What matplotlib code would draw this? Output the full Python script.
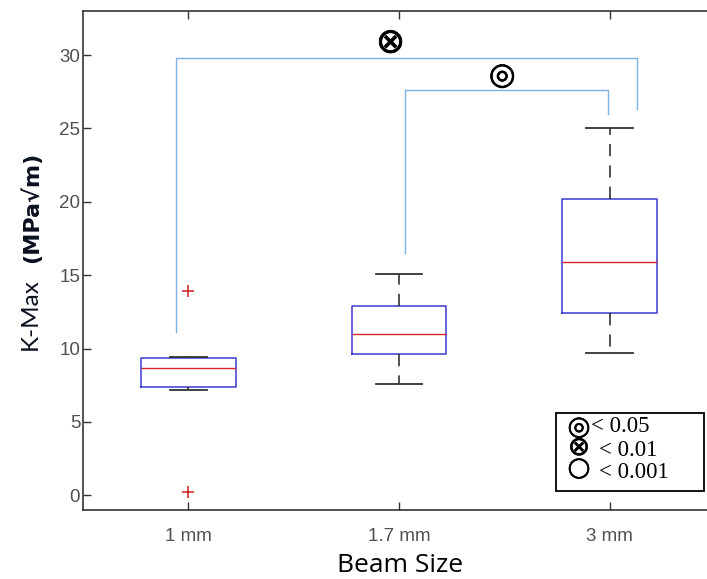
import matplotlib
matplotlib.use('Agg')
import matplotlib.pyplot as plt
import matplotlib.patheffects as pe
from matplotlib.patches import Rectangle

plt.rcParams['font.family'] = 'Liberation Sans'

# box statistics
labels = ['1 mm', '1.7 mm', '3 mm']
q1 = [7.35, 9.6, 12.4]
med = [8.68, 11.0, 15.87]
q3 = [9.35, 12.9, 20.2]
whislo = [7.15, 7.6, 9.7]
whishi = [9.45, 15.1, 25.05]
fliers = [[13.9, 0.2], [], []]

# significance brackets: x left, x right, y top, left foot, right foot
br_xl = [0.94, 2.03]
br_xr = [3.13, 2.99]
br_top = [29.8, 27.6]
br_footl = [11.1, 16.5]
br_footr = [26.3, 26.0]
br_sym = ['\u2297', '\u25ce']
br_symx = [1.96, 2.49]
br_symy = [30.85, 28.6]
br_symsize = [25, 22]

leg_sym = ['\u25ce', '\u2297', '\u25cb']
leg_txt = ['< 0.05', '< 0.01', '< 0.001']

W, H = 707, 579
fig = plt.figure(figsize=(W/100, H/100), dpi=100)
ax = fig.add_axes([83/W, 69/H, (715-83)/W, (510-11)/H])

stats = []
for i in range(3):
    stats.append(dict(med=med[i], q1=q1[i], q3=q3[i], whislo=whislo[i],
                      whishi=whishi[i], fliers=fliers[i], label=labels[i]))

ax.bxp(stats, positions=[1, 2, 3], widths=0.45, capwidths=[0.175, 0.22, 0.22],
       boxprops=dict(color='#3a3ad0', linewidth=1.1),
       medianprops=dict(color='#d62828', linewidth=1.0),
       whiskerprops=dict(color='#222222', linestyle=(0, (8, 6)), linewidth=1.1),
       capprops=dict(color='#333333', linewidth=1.3),
       flierprops=dict(marker='+', markeredgecolor='#cc1f1f', markersize=9, markeredgewidth=1.1))

thick = [pe.withStroke(linewidth=0.5, foreground='black')]
for i in range(len(br_xl)):
    ax.plot([br_xl[i], br_xl[i], br_xr[i], br_xr[i]],
            [br_footl[i], br_top[i], br_top[i], br_footr[i]],
            color='#7db0e6', linewidth=1.0)
    ax.text(br_symx[i], br_symy[i], br_sym[i], fontsize=br_symsize[i], ha='center',
            va='center', family='DejaVu Sans', color='black', path_effects=thick)

ax.set_xlim(0.5, 3.5)
ax.set_ylim(-1, 33)
ax.set_yticks([0, 5, 10, 15, 20, 25, 30])
ax.set_xticks([1, 2, 3])
ax.set_xticklabels(labels)
for s in ax.spines.values():
    s.set_color('#333333')
    s.set_linewidth(1.2)
ax.tick_params(direction='in', length=6, color='#333333', top=True, right=True,
               labelsize=13.5, labelcolor='#505050', width=1.0)
ax.tick_params(axis='x', pad=13)
ax.tick_params(axis='y', pad=2)

# legend box for p-values
fig.patches.append(Rectangle((556/W, 1-491/H), (704-556)/W, (491-413)/H,
                             transform=fig.transFigure, fill=False,
                             edgecolor='black', linewidth=1.3))
fig.text(579/W, 1-448/H, '\n'.join(leg_sym), fontsize=19, ha='center', va='center',
         linespacing=0.72, family='DejaVu Sans',
         path_effects=[pe.withStroke(linewidth=0.4, foreground='black')])
leg_y = [427, 450, 472]
leg_tx = [591, 599, 599]
for i in range(3):
    fig.text(leg_tx[i]/W, 1 - leg_y[i]/H, leg_txt[i], fontsize=16.5, ha='left',
             va='center', family=['Liberation Serif', 'DejaVu Sans'])

# axis labels
fig.text(400/W, 1-566/H, 'Beam Size', fontsize=19, ha='center', va='center',
         family='Open Sans', color='black')
fig.text(30/W, 1-350/H, 'K-Max', fontsize=17.5, rotation=90, ha='center',
         va='bottom', family='Lato', color='#0a1020')
fig.text(31/W, 1-263/H, '(MPa\u221am)', fontsize=16, rotation=90, ha='center',
         va='bottom', family='DejaVu Sans', fontweight='bold', color='#0a1020')

fig.savefig('out.png', dpi=100)
